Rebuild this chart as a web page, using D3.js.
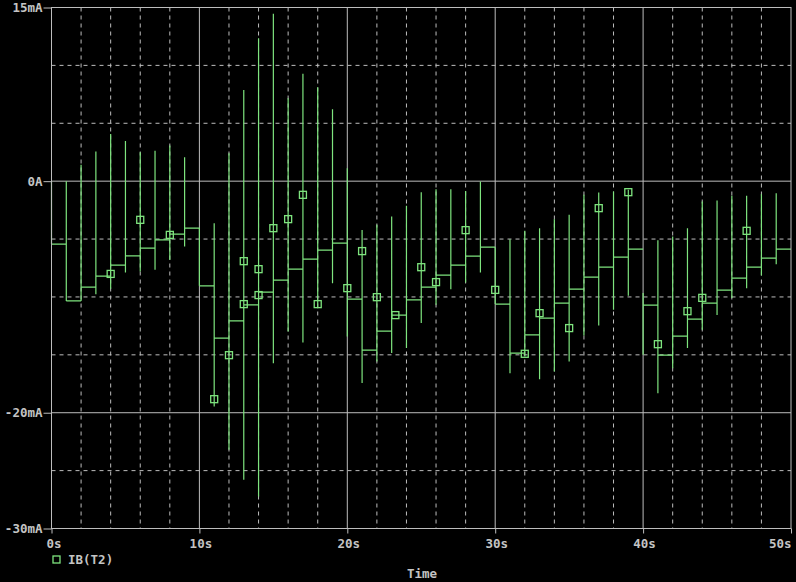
<!DOCTYPE html>
<html>
<head>
<meta charset="utf-8">
<script src="https://cdn.jsdelivr.net/npm/d3@7"></script>
<style>
  html, body { margin: 0; padding: 0; background: #000; }
  svg { display: block; }
  text { font-family: "DejaVu Sans Mono", "Liberation Mono", monospace; font-weight: bold; font-size: 12.5px; fill: #c4c4c4; }
</style>
</head>
<body>
<svg id="chart" width="796" height="582"></svg>
<script>
// ---- data (mA vs s) ----
const stepTimes = d3.range(0, 50); // step at every second
// level held from t to t+1
const levels = [-5.44,-10.34,-9.15,-8.20,-7.25,-6.45,-5.79,-5.07,-4.58,-4.06,
  -9.04,-13.56,-12.06,-10.68,-9.59,-8.55,-7.60,-6.74,-5.96,-5.35,
  -10.19,-14.59,-12.95,-11.57,-10.25,-9.15,-8.12,-7.25,-6.48,-5.70,
  -10.62,-14.85,-13.27,-11.83,-10.54,-9.33,-8.29,-7.43,-6.56,-5.87,
  -10.71,-15.03,-13.38,-11.92,-10.54,-9.41,-8.38,-7.43,-6.65,-5.87];
// spike extent at each step time
const spikeTop = [0.0,0.0,1.41,2.56,4.08,3.48,2.50,2.62,3.07,2.07,
  -4.03,-3.63,2.42,7.88,12.35,14.45,7.17,9.27,8.12,6.22,
  1.12,-4.21,-3.77,-3.06,-2.13,-0.95,-0.69,-0.69,-0.84,-0.03,
  -5.70,-5.01,-4.29,-4.06,-3.28,-2.91,-1.18,-0.98,-0.90,-0.75,
  -9.67,-5.10,-4.78,-4.06,-1.76,-1.67,-1.27,-1.27,-1.13,-1.04];
const spikeBottom = [-5.44,-10.34,-10.34,-9.76,-9.30,-7.89,-7.81,-7.66,-6.80,-5.65,
  -9.04,-19.46,-23.20,-25.80,-27.24,-15.72,-12.99,-13.94,-10.97,-8.81,
  -13.42,-17.44,-15.58,-14.85,-14.42,-12.26,-10.68,-9.33,-8.76,-7.89,
  -10.62,-16.58,-15.15,-17.10,-16.44,-15.58,-13.33,-12.47,-11.11,-9.90,
  -15.00,-18.31,-16.15,-14.42,-12.84,-11.57,-10.10,-9.24,-8.15,-7.17];
// marker positions
const markerT = [4,6,8,11,12,13,13,14,14,15,16,17,18,20,21,22,23.25,25,26,28,30,32,33,35,37,39,41,43,44,47];
const markerV = [-8.01,-3.34,-4.64,-18.83,-15.03,-6.91,-10.62,-7.60,-9.84,-4.06,-3.28,-1.18,-10.62,-9.24,-6.04,-10.02,-11.57,-7.43,-8.72,-4.23,-9.39,-14.91,-11.40,-12.69,-2.33,-0.95,-14.08,-11.23,-10.08,-4.29];
// axis ticks
const xTickValues = [0,10,20,30,40,50];
const xTickLabels = ["0s","10s","20s","30s","40s","50s"];
const yTickValues = [15,0,-20,-30];
const yTickLabels = ["15mA","0A","-20mA","-30mA"];
const xMinor = [2,4,6,8,12,14,16,18,22,24,26,28,32,34,36,38,42,44,46,48];
const yMinor = [10,5,-5,-10,-15,-25];
const yMajorInner = [0,-20];
const xMajorInner = [10,20,30,40];
const seriesName = "IB(T2)";
const xTitle = "Time";

// ---- drawing ----
const svg = d3.select("#chart");
const x = d3.scaleLinear().domain([0, 50]).range([51.5, 791]);
const y = d3.scaleLinear().domain([-30, 15]).range([528.5, 7.5]);
const GRID = "#bdbdbd";
const GREEN = "#7ee47e";

const grid = svg.append("g");
grid.selectAll("line.hx").data(yMinor).join("line")
  .attr("x1", x(0)).attr("x2", x(50)).attr("y1", d => y(d)).attr("y2", d => y(d))
  .attr("stroke", GRID).attr("stroke-width", 1).attr("stroke-dasharray", "4,4");
grid.selectAll("line.vx").data(xMinor).join("line")
  .attr("y1", y(15)).attr("y2", y(-30)).attr("x1", d => x(d)).attr("x2", d => x(d))
  .attr("stroke", GRID).attr("stroke-width", 1).attr("stroke-dasharray", "4,4");
grid.selectAll("line.hs").data(yMajorInner).join("line")
  .attr("x1", x(0)).attr("x2", x(50)).attr("y1", d => y(d)).attr("y2", d => y(d))
  .attr("stroke", GRID).attr("stroke-width", 1);
grid.selectAll("line.vs").data(xMajorInner).join("line")
  .attr("y1", y(15)).attr("y2", y(-30)).attr("x1", d => x(d)).attr("x2", d => x(d))
  .attr("stroke", GRID).attr("stroke-width", 1);

// trace
const p = d3.path();
stepTimes.forEach((t, i) => {
  p.moveTo(x(t), y(spikeTop[i]));
  p.lineTo(x(t), y(spikeBottom[i]));
  p.moveTo(x(t), y(levels[i]));
  p.lineTo(x(t + 1), y(levels[i]));
});
svg.append("path").attr("d", p.toString()).attr("fill", "none")
  .attr("stroke", GREEN).attr("stroke-width", 1.2);

// markers
svg.append("g").selectAll("rect").data(markerT.map((t, i) => [t, markerV[i]])).join("rect")
  .attr("x", d => x(d[0]) - 3.5).attr("y", d => y(d[1]) - 3.5)
  .attr("width", 7).attr("height", 7)
  .attr("fill", "none").attr("stroke", GREEN).attr("stroke-width", 1.3);

// frame
svg.append("rect").attr("x", x(0)).attr("y", y(15)).attr("width", x(50) - x(0)).attr("height", y(-30) - y(15))
  .attr("fill", "none").attr("stroke", GRID).attr("stroke-width", 1);

// axes
const yAxis = d3.axisLeft(y).tickValues(yTickValues).tickSize(8).tickPadding(1)
  .tickFormat((d, i) => yTickLabels[i]);
const ga = svg.append("g").attr("transform", `translate(${x(0)},0)`).call(yAxis);
ga.select(".domain").remove();
ga.selectAll(".tick line").attr("stroke", GRID);
ga.selectAll(".tick text").attr("fill", "#c4c4c4").style("font-size", "12.5px")
  .style("font-family", '"DejaVu Sans Mono", monospace').style("font-weight", "bold");

const xAxis = d3.axisBottom(x).tickValues(xTickValues).tickSize(5).tickPadding(6)
  .tickFormat((d, i) => xTickLabels[i]);
const gx = svg.append("g").attr("transform", `translate(0,${y(-30)})`).call(xAxis);
gx.select(".domain").remove();
gx.selectAll(".tick line").attr("stroke", GRID);
gx.selectAll(".tick text").attr("fill", "#c4c4c4").style("font-size", "12.5px")
  .style("font-family", '"DejaVu Sans Mono", monospace').style("font-weight", "bold")
  .attr("text-anchor", (d, i) => i === xTickValues.length - 1 ? "end" : "middle")
  .attr("x", (d, i) => i === xTickValues.length - 1 ? 0 : (i === 0 ? 2 : 1));

// legend
svg.append("rect").attr("x", 53).attr("y", 556).attr("width", 7).attr("height", 7)
  .attr("fill", "none").attr("stroke", GREEN).attr("stroke-width", 1.3);
svg.append("text").attr("x", 68).attr("y", 560).attr("dominant-baseline", "middle").text(seriesName);
svg.append("text").attr("x", 407).attr("y", 574).attr("dominant-baseline", "middle").text(xTitle);
</script>
</body>
</html>
